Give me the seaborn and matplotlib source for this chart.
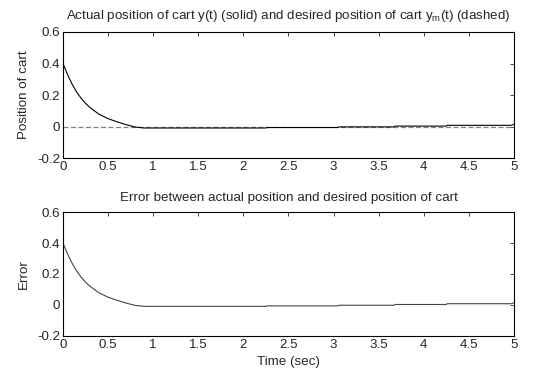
import numpy as np
import pandas as pd
import matplotlib
matplotlib.use("Agg")
import matplotlib.pyplot as plt
import seaborn as sns

# Valeurs (réponse du chariot, consigne nulle)
time_s = [0.0, 0.05, 0.1, 0.15, 0.2, 0.25, 0.3, 0.4, 0.5, 0.6, 0.7, 0.8, 0.9,
          2.25, 2.26, 3.05, 3.06, 3.67, 3.68, 4.25, 4.26, 4.97, 5.0]
cart_pos = [0.40, 0.33, 0.27, 0.22, 0.18, 0.147, 0.12, 0.078, 0.05, 0.03, 0.012, -0.003, -0.009,
            -0.009, -0.006, -0.006, -0.002, -0.002, 0.003, 0.003, 0.008, 0.008, 0.014]
desired_pos = [0.0] * len(time_s)
error = [a - b for a, b in zip(cart_pos, desired_pos)]

xticks = [0, 0.5, 1, 1.5, 2, 2.5, 3, 3.5, 4, 4.5, 5]
xticklabels = ["0", "0.5", "1", "1.5", "2", "2.5", "3", "3.5", "4", "4.5", "5"]
yticks = [-0.2, 0, 0.2, 0.4, 0.6]
yticklabels = ["-0.2", "0", "0.2", "0.4", "0.6"]

FS = 9.6

sns.set_style("white")
plt.rcParams.update({
    "font.family": ["Liberation Sans", "DejaVu Sans"],
    "font.size": FS,
    "xtick.direction": "in",
    "ytick.direction": "in",
    "xtick.major.size": 3,
    "ytick.major.size": 3,
    "axes.linewidth": 0.8,
    "axes.edgecolor": "black",
})

df = pd.DataFrame({"t": time_s, "y": cart_pos, "ym": desired_pos, "e": error})

fig = plt.figure(figsize=(5.4, 3.72), dpi=100)
ax1 = fig.add_axes([0.1167, 0.575, 0.835, 0.339])
ax2 = fig.add_axes([0.1167, 0.097, 0.835, 0.333])

sns.lineplot(data=df, x="t", y="ym", ax=ax1, color="#808080", lw=0.9,
             linestyle=(0, (4, 2)))
sns.lineplot(data=df, x="t", y="y", ax=ax1, color="black", lw=0.8)
sns.lineplot(data=df, x="t", y="e", ax=ax2, color="#444444", lw=0.8)

for ax in (ax1, ax2):
    ax.set_xlim(0, 5)
    ax.set_ylim(-0.2, 0.6)
    ax.set_xticks(xticks)
    ax.set_xticklabels(xticklabels)
    ax.set_yticks(yticks)
    ax.set_yticklabels(yticklabels)
    ax.tick_params(top=True, right=True, labelsize=FS, pad=2, width=0.6)
    for s in ax.spines.values():
        s.set_visible(True)
        s.set_color("black")
    ax.set_xlabel("")

ax1.set_title("Actual position of cart y(t) (solid) and desired position of cart y$_\\mathregular{m}$(t) (dashed)",
              fontsize=FS, pad=9)
ax1.set_ylabel("Position of cart", fontsize=FS, labelpad=5)
ax2.set_title("Error between actual position and desired position of cart", fontsize=FS, pad=8)
ax2.set_ylabel("Error", fontsize=FS, labelpad=5)
ax2.set_xlabel("Time (sec)", fontsize=FS, labelpad=4)

fig.savefig("out.png", dpi=100)
